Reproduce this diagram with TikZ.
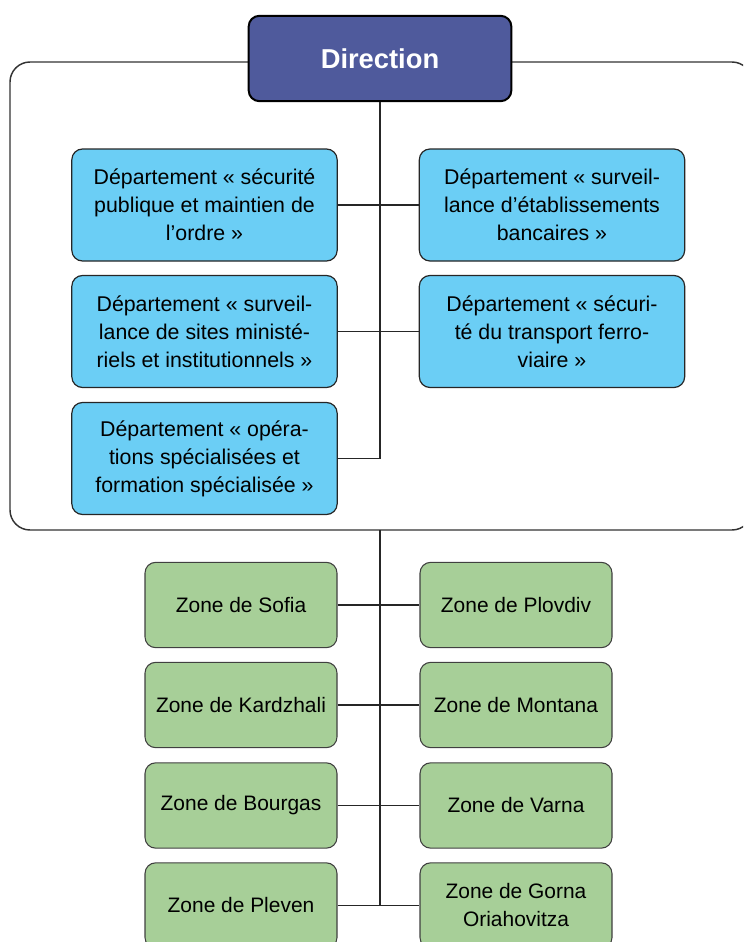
\documentclass[tikz,border=0pt]{standalone}
\usepackage{fontspec}
\setmainfont{Liberation Sans}

\definecolor{dirblue}{HTML}{4F5A9C}
\definecolor{deptblue}{HTML}{6BCEF5}
\definecolor{zonegreen}{HTML}{A7CF98}

\tikzset{
	dirbox/.style={draw=black, line width=1.5pt, fill=dirblue, rounded corners=8pt,
		minimum width=197pt, minimum height=64pt, text=white,
		font=\bfseries\fontsize{20.5}{24}\selectfont},
	deptbox/.style={draw=black!85, line width=0.9pt, fill=deptblue, rounded corners=8pt,
		minimum width=199pt, minimum height=84pt, align=center,
		font=\fontsize{16}{21}\selectfont},
	zonebox/.style={draw=black!75, line width=0.8pt, fill=zonegreen, rounded corners=8pt,
		minimum width=144pt, minimum height=64pt, align=center,
		font=\fontsize{15.7}{21}\selectfont},
	link/.style={draw=black!85, line width=1pt}
}

\begin{document}
\begin{tikzpicture}[x=0.75pt, y=-0.75pt]
	\clip (0,0) rectangle (743,942);

	% cadre autour de la direction et des departements
	\draw[black!80, line width=1.1pt, rounded corners=15pt] (10,62) rectangle (752,530);
	\coordinate (framebot) at (380,530);

	\node[dirbox] (dir) at (380,58.5) {Direction};

	\node[deptbox] (dsec) at (204.5,205) {Département « sécurité\\publique et maintien de\\l’ordre »};
	\node[deptbox] (dbank) at (552,205) {Département « surveil-\\lance d’établissements\\bancaires »};
	\node[deptbox] (dsite) at (204.5,331.5) {Département « surveil-\\lance de sites ministé-\\riels et institutionnels »};
	\node[deptbox] (drail) at (552,331.5) {Département « sécuri-\\té du transport ferro-\\viaire »};
	\node[deptbox] (dops) at (204.5,458.5) {Département « opéra-\\tions spécialisées et\\formation spécialisée »};

	\node[zonebox] (zsof) at (241,605) {Zone de Sofia};
	\node[zonebox] (zplo) at (516,605) {Zone de Plovdiv};
	\node[zonebox] (zkar) at (241,705) {Zone de Kardzhali};
	\node[zonebox] (zmon) at (516,705) {Zone de Montana};
	\node[zonebox] (zbou) at (241,805.5) {Zone de Bourgas};
	\node[zonebox] (zvar) at (516,805.5) {Zone de Varna};
	\node[zonebox] (zple) at (241,905.5) {Zone de Pleven};
	\node[zonebox] (zgor) at (516,905.5) {Zone de Gorna\\Oriahovitza};

	% liaisons
	\draw[link] (dir.south) |- (dops.east);
	\draw[link] (dsec.east) -- (dbank.west);
	\draw[link] (dsite.east) -- (drail.west);

	\draw[link] (framebot) -- (framebot |- zple.east);
	\draw[link] (zsof.east) -- (zplo.west);
	\draw[link] (zkar.east) -- (zmon.west);
	\draw[link] (zbou.east) -- (zvar.west);
	\draw[link] (zple.east) -- (zgor.west);
\end{tikzpicture}
\end{document}
